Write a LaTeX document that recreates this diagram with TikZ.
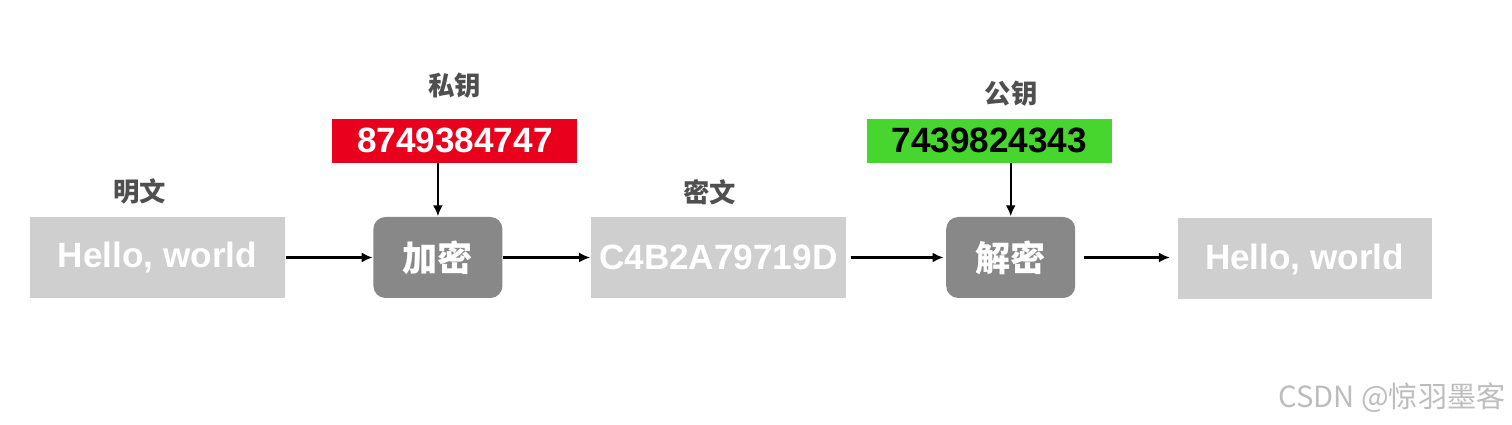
\documentclass[tikz,border=0pt]{standalone}
\usepackage{fontspec}
\setmainfont{Liberation Sans}
\newfontfamily\cjk{Noto Sans CJK SC}
\usepackage{xcolor}
\usepackage{tikz}
\usetikzlibrary{arrows.meta,positioning}
\definecolor{boxgray}{HTML}{CFCFCF}
\definecolor{opgray}{HTML}{888888}
\definecolor{keyred}{HTML}{E8001C}
\definecolor{keygreen}{HTML}{46D62E}
\definecolor{labelgray}{HTML}{4F4F4F}
\definecolor{markgray}{HTML}{BDBDBD}

\begin{document}
\begin{tikzpicture}[>={Latex[length=1.1mm,width=1mm]},node distance=5mm]
  \useasboundingbox (0,0) rectangle (15.12,4.25);
  \tikzstyle{textbox}=[fill=boxgray,text=white,minimum width=2.55cm,minimum height=8.1mm,inner sep=0pt,font=\fontsize{10pt}{12pt}\selectfont\bfseries]
  \tikzstyle{opbox}=[rounded corners=1.2mm,fill=opgray,text=white,minimum width=1.29cm,minimum height=8.1mm,inner sep=0pt,font=\fontsize{10pt}{12pt}\selectfont\cjk\bfseries]
  \tikzstyle{keybox}=[minimum width=2.45cm,minimum height=4.4mm,inner sep=0pt,font=\fontsize{10pt}{12pt}\selectfont\bfseries]
  \tikzstyle{caption}=[inner sep=0pt,text=labelgray,font=\fontsize{7.5pt}{9pt}\selectfont\cjk\bfseries]
  \tikzstyle{flow}=[->,line width=0.6pt]
  \node[textbox] (plain) at (1.575,1.675) {Hello, world};
  \node[opbox,right=8.7mm of plain] (enc) {加密};
  \node[textbox,right=8.7mm of enc] (cipher) {C4B2A79719D};
  \node[opbox,right=9.9mm of cipher] (dec) {解密};
  \node[textbox,right=10.1mm of dec,yshift=-0.15mm,minimum width=2.54cm] (result) {Hello, world};
  \node[keybox,fill=keyred,text=white,above=5.3mm of enc,xshift=1.7mm] (privkey) {8749384747};
  \node[keybox,fill=keygreen,text=black,above=5.3mm of dec,xshift=-2.15mm] (pubkey) {7439824343};
  \node[caption,above=1.9mm of privkey] (privlbl) {私钥};
  \node[caption,above=1.1mm of pubkey,xshift=2.2mm] (publbl) {公钥};
  \node[caption,above=1.1mm of plain,xshift=-1.75mm] (plainlbl) {明文};
  \node[caption,above=1.1mm of cipher,xshift=-0.85mm] (cipherlbl) {密文};
  \node[text=markgray,font=\fontsize{8.3pt}{10pt}\selectfont\cjk] (mark) at (13.92,0.27) {CSDN @惊羽墨客};
  \draw[flow] (plain) -- (enc);
  \draw[flow] (enc) -- (cipher);
  \draw[flow,shorten <=0.4mm,shorten >=0.2mm] (cipher) -- (dec);
  \draw[flow,shorten <=0.8mm,shorten >=0.7mm] (dec) -- (dec -| result.west);
  \draw[flow] (privkey.south -| enc.north) -- (enc.north);
  \draw[flow] (pubkey.south -| dec.north) -- (dec.north);
\end{tikzpicture}
\end{document}
